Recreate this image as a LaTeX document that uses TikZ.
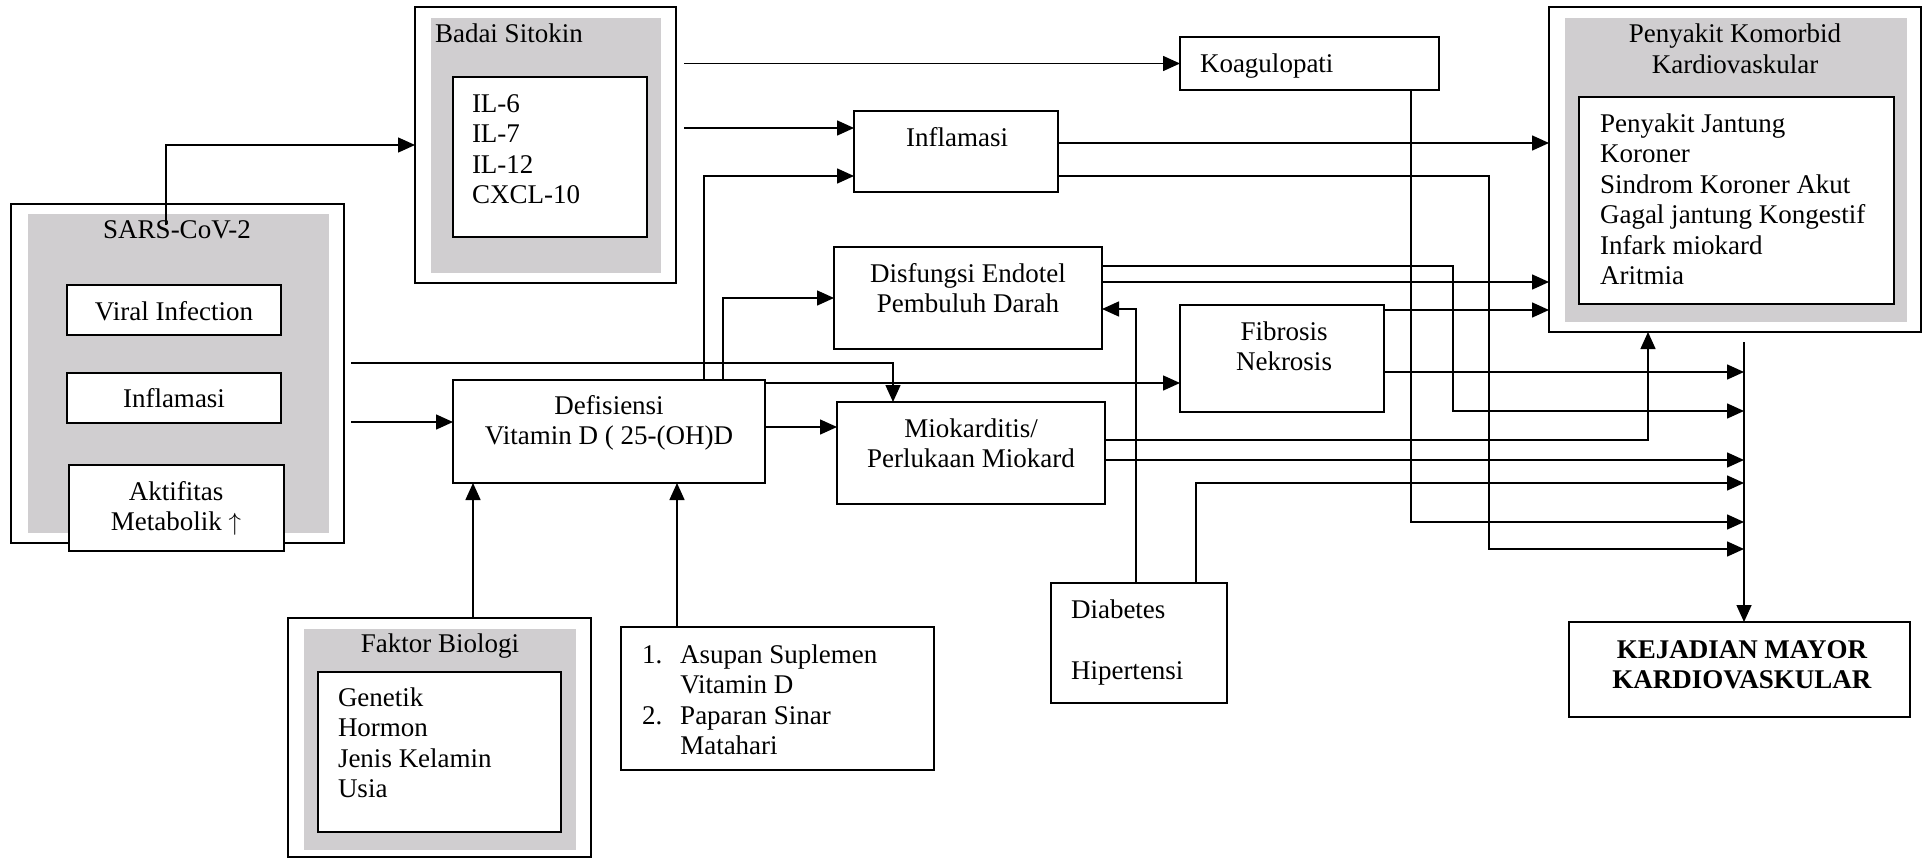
\documentclass[tikz,border=0pt]{standalone}
\usepackage{fontspec}
\setmainfont{Liberation Serif}
\usetikzlibrary{arrows.meta,fit}
\definecolor{boxgray}{RGB}{208,206,208}
\newcommand\fs{\fontsize{27}{30.5}\selectfont}
\newcommand\mlc[1]{\begin{tabular}[t]{@{}c@{}}#1\end{tabular}}
\newcommand\mll[1]{\begin{tabular}[t]{@{}l@{}}#1\end{tabular}}
\begin{document}
\begin{tikzpicture}[x=1pt,y=-1pt,
  every node/.style={font=\fs, inner sep=0pt, outer sep=0pt},
  box/.style={draw, fill=white, line width=1.6pt, inner sep=0pt},
  gbox/.style={fill=boxgray, inner sep=0pt},
  tc/.style={anchor=base},
  tl/.style={anchor=base west},
  conn/.style={line width=1.5pt},
  arr/.style={conn, -{Triangle[length=17pt,width=15pt]}}]
\useasboundingbox (0,0) rectangle (1924,859);
\fill[white] (0,0) rectangle (1924,859);
% SARS-CoV-2
\node[box, fit={(11,204)(344,543)}] (sarsO) {};
\node[gbox, fit={(28,214)(329,533)}] (sarsG) {};
\node[tc] (tsars) at (177,238) {SARS-CoV-2};
\node[box, fit={(67,285)(281,335)}] (viral) {};
\node[tc] (tviral) at (174,320) {Viral Infection};
\node[box, fit={(67,373)(281,423)}] (inflA) {};
\node[tc] (tinflA) at (174,407) {Inflamasi};
\node[box, fit={(69,465)(284,551)}] (aktif) {};
\node[tc] (taktif) at (176,500) {\mlc{Aktifitas\\Metabolik $\uparrow$}};
% Badai Sitokin
\node[box, fit={(415,7)(676,283)}] (badaiO) {};
\node[gbox, fit={(431,18)(661,273)}] (badaiG) {};
\node[tl] (tbadai) at (435,43) {Badai Sitokin};
\node[box, fit={(453,77)(647,237)}] (badaiI) {};
\node[tl] (til) at (472,112) {\mll{IL-6\\IL-7\\IL-12\\CXCL-10}};
% Vitamin D
\node[box, fit={(453,380)(765,483)}] (vitd) {};
\node[tc] (tvitd) at (609,414) {\mlc{Defisiensi\\Vitamin D ( 25-(OH)D}};
% Faktor Biologi
\node[box, fit={(288,618)(591,857)}] (fakO) {};
\node[gbox, fit={(304,629)(576,850)}] (fakG) {};
\node[tc] (tfak) at (440,652) {Faktor Biologi};
\node[box, fit={(318,672)(561,832)}] (fakI) {};
\node[tl] (tfakl) at (338,706) {\mll{Genetik\\Hormon\\Jenis Kelamin\\Usia}};
% Asupan
\node[box, fit={(621,627)(934,770)}] (asup) {};
\node[tl] (tasup) at (642,663) {\begin{tabular}[t]{@{}l@{\hspace{18pt}}l@{}}1.&Asupan Suplemen\\&Vitamin D\\2.&Paparan Sinar\\&Matahari\end{tabular}};
% Koagulopati
\node[box, fit={(1180,37)(1439,90)}] (koag) {};
\node[tl] (tkoag) at (1200,72) {Koagulopati};
% Inflamasi
\node[box, fit={(854,111)(1058,192)}] (inflB) {};
\node[tc] (tinflB) at (957,146) {Inflamasi};
% Disfungsi
\node[box, fit={(834,247)(1102,349)}] (disf) {};
\node[tc] (tdisf) at (968,282) {\mlc{Disfungsi Endotel\\Pembuluh Darah}};
% Miokarditis
\node[box, fit={(837,402)(1105,504)}] (mio) {};
\node[tc] (tmio) at (971,437) {\mlc{Miokarditis/\\Perlukaan Miokard}};
% Fibrosis
\node[box, fit={(1180,305)(1384,412)}] (fib) {};
\node[tc] (tfib) at (1284,340) {\mlc{Fibrosis\\Nekrosis}};
% Penyakit Komorbid
\node[box, fit={(1549,7)(1921,332)}] (penO) {};
\node[gbox, fit={(1565,18)(1907,322)}] (penG) {};
\node[tc] (tpen) at (1735,43) {\mlc{Penyakit Komorbid\\Kardiovaskular}};
\node[box, fit={(1579,97)(1894,304)}] (penI) {};
\node[tl] (tpenl) at (1600,132) {\mll{Penyakit Jantung\\Koroner\\Sindrom Koroner Akut\\Gagal jantung Kongestif\\Infark miokard\\Aritmia}};
% Diabetes
\node[box, fit={(1051,583)(1227,703)}] (diab) {};
\node[tl] (tdiab) at (1071,618) {\mll{Diabetes\\ \\Hipertensi}};
% Kejadian
\node[box, fit={(1569,622)(1910,717)}] (kej) {};
\node[tc] (tkej) at (1742,658) {\mlc{\textbf{KEJADIAN MAYOR}\\\textbf{KARDIOVASKULAR}}};
% connectors
\coordinate (cS) at (166,225);
\coordinate (bR) at ([xshift=8pt]badaiO.east);
\coordinate (sR) at ([xshift=7pt]sarsO.east);
\coordinate (col) at (1744,342);
\draw[arr] (cS) |- (badaiO.west);
\draw[arr] (bR |- koag.west) -- (koag.west);
\draw[arr] (bR |- 0,128) -- (inflB.west |- 0,128);
\draw[arr] (inflB.east |- 0,143) -- (penO.west |- 0,143);
\draw[arr] (inflB.east |- 0,176) -- (1489,176) -- (1489,549) -- (col |- 0,549);
\draw[arr] (vitd.north -| 704,0) |- (inflB.west |- 0,176);
\draw[arr] (vitd.north -| 723,0) |- (disf.west);
\draw[arr] (sR |- 0,363) -| (mio.north -| 893,0);
\draw[arr] (sR |- 0,422) -- (vitd.west |- 0,422);
\draw[arr] (vitd.east |- 0,383) -- (fib.west |- 0,383);
\draw[arr] (vitd.east |- 0,427) -- (mio.west |- 0,427);
\draw[arr] (fakO.north -| 473,0) -- (vitd.south -| 473,0);
\draw[arr] (asup.north -| 677,0) -- (vitd.south -| 677,0);
\draw[arr] (koag.south -| 1411,0) |- (col |- 0,522);
\draw[arr] (disf.east |- 0,266) -- (1453,266) -- (1453,411) -- (col |- 0,411);
\draw[arr] (disf.east |- 0,282) -- (penO.west |- 0,282);
\draw[arr] (fib.east |- 0,310) -- (penO.west |- 0,310);
\draw[arr] (fib.east |- 0,372) -- (col |- 0,372);
\draw[arr] (mio.east |- 0,440) -| (penO.south -| 1648,0);
\draw[arr] (mio.east |- 0,460) -- (col |- 0,460);
\draw[arr] (diab.north -| 1136,0) |- (disf.east |- 0,309);
\draw[arr] (diab.north -| 1196,0) |- (col |- 0,483);
\draw[arr] (col) -- (col |- kej.north);
\end{tikzpicture}
\end{document}
